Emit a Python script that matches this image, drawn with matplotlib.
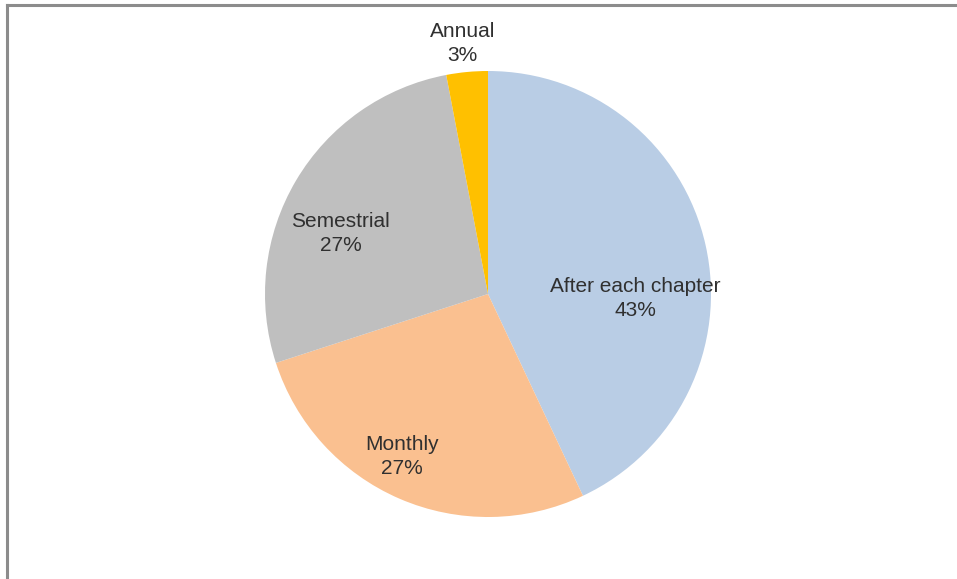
import matplotlib.pyplot as plt
from matplotlib.lines import Line2D

plt.rcParams['font.family'] = ['Liberation Sans', 'DejaVu Sans']

categories = ["After each chapter", "Monthly", "Semestrial", "Annual"]
shares = [43, 27, 27, 3]
colors = ["#B9CDE5", "#FAC090", "#BFBFBF", "#FFC000"]
# label anchor points in pie units (radius = 1)
label_pos = [(0.66, -0.02), (-0.385, -0.73), (-0.66, 0.27), (-0.115, 1.125)]

fig = plt.figure(figsize=(9.57, 5.79), dpi=100)
fig.patch.set_facecolor("white")

W, H = 957, 579
cx, cy, r = 488, 294, 223
ax = fig.add_axes([(cx - r) / W, (H - cy - r) / H, 2 * r / W, 2 * r / H])

ax.pie(shares, colors=colors, startangle=90, counterclock=False,
       radius=1, wedgeprops=dict(linewidth=0))
ax.set_xlim(-1, 1)
ax.set_ylim(-1, 1)
ax.set_aspect("equal")
ax.axis("off")

for name, val, (x, y) in zip(categories, shares, label_pos):
    ax.text(x, y, f"{name}\n{val}%", ha="center", va="center",
            fontsize=15, color="#303030", linespacing=1.33, clip_on=False)

# chart frame (top and left edges visible in the crop)
fig.add_artist(Line2D([6.5 / W, 1], [1 - 4.5 / H, 1 - 4.5 / H], color="#8C8C8C", lw=2.2))
fig.add_artist(Line2D([6.5 / W, 6.5 / W], [0, 1 - 4.5 / H], color="#8C8C8C", lw=2.2))

fig.savefig("out.png", dpi=100, facecolor="white")
